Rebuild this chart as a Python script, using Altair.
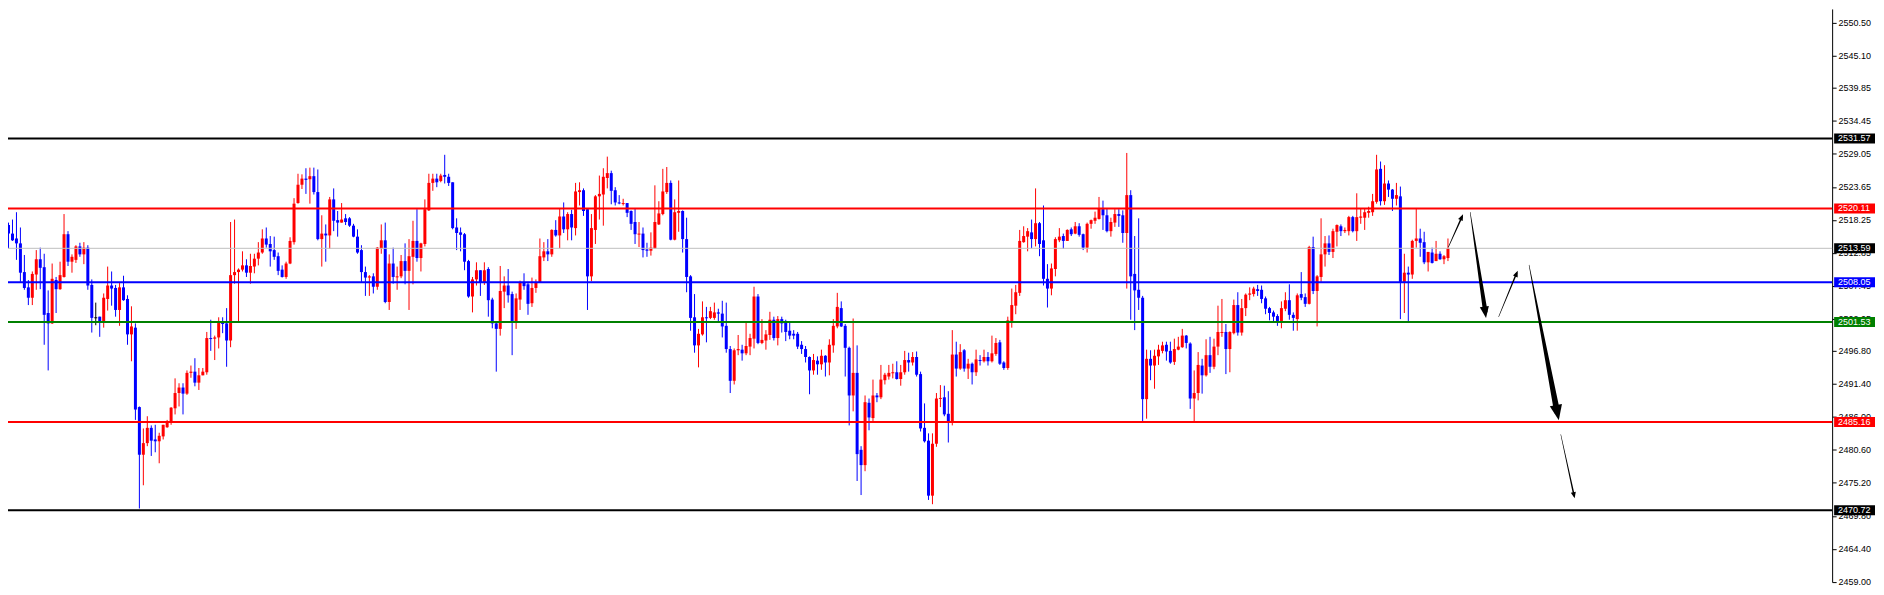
import altair as alt
import pandas as pd

# ---------------- candle data ----------------
opens = [
2517.4, 2516.0, 2515.2, 2514.4, 2509.7, 2507.2, 2505.5, 2509.3, 2511.8, 2510.5,
2503.0, 2501.3, 2508.4, 2506.9, 2508.9, 2515.9, 2511.4, 2511.7, 2513.9, 2512.6,
2513.7, 2507.6, 2502.3, 2502.4, 2501.6, 2505.3, 2507.5, 2507.1, 2503.5, 2507.2,
2505.3, 2499.5, 2500.6, 2487.6, 2479.8, 2481.7, 2484.2, 2482.3, 2482.0, 2482.8,
2484.3, 2485.0, 2487.4, 2489.9, 2490.8, 2489.8, 2493.2, 2493.4, 2491.6, 2492.8,
2493.3, 2498.9, 2498.8, 2499.0, 2501.6, 2501.3, 2498.5, 2509.2, 2509.7, 2510.1,
2510.8, 2509.6, 2510.6, 2511.9, 2512.9, 2515.2, 2514.3, 2513.3, 2512.3, 2510.1,
2508.9, 2511.1, 2514.6, 2521.0, 2524.0, 2525.0, 2524.9, 2525.4, 2522.8, 2515.1,
2516.0, 2515.7, 2521.6, 2518.2, 2517.8, 2518.5, 2518.5, 2517.3, 2515.5, 2513.3,
2509.7, 2508.8, 2509.0, 2507.3, 2513.6, 2514.9, 2504.8, 2511.1, 2508.9, 2509.0,
2511.5, 2509.9, 2512.2, 2514.8, 2512.0, 2514.3, 2519.8, 2524.3, 2525.0, 2524.6,
2525.6, 2525.3, 2524.4, 2517.0, 2516.2, 2515.9, 2511.5, 2505.7, 2508.5, 2510.0,
2508.0, 2510.2, 2505.2, 2501.3, 2500.4, 2506.5, 2507.5, 2506.1, 2501.6, 2505.2,
2508.0, 2507.7, 2504.6, 2507.1, 2508.0, 2512.1, 2513.1, 2512.6, 2516.6, 2515.7,
2518.8, 2516.7, 2519.2, 2516.9, 2522.8, 2523.1, 2520.0, 2509.0, 2516.6, 2522.1,
2522.4, 2525.1, 2525.9, 2523.1, 2521.1, 2520.9, 2521.0, 2519.7, 2517.9, 2515.9,
2516.0, 2513.4, 2513.2, 2513.6, 2517.5, 2519.2, 2522.8, 2524.3, 2515.0, 2519.4,
2519.7, 2515.1, 2509.0, 2502.3, 2497.7, 2499.5, 2502.3, 2502.2, 2502.2, 2503.1,
2502.9, 2500.9, 2497.1, 2491.9, 2496.9, 2497.0, 2496.4, 2497.5, 2498.8, 2505.7,
2498.1, 2498.5, 2499.4, 2501.9, 2498.9, 2502.0, 2501.7, 2500.1, 2499.6, 2499.6,
2497.8, 2497.1, 2495.8, 2493.6, 2495.2, 2494.6, 2496.0, 2494.9, 2497.7, 2500.8,
2503.8, 2500.9, 2497.3, 2489.5, 2493.2, 2480.6, 2478.1, 2488.3, 2485.8, 2489.5,
2489.2, 2492.0, 2492.6, 2493.2, 2493.3, 2492.2, 2493.3, 2495.3, 2494.9, 2495.8,
2493.0, 2484.2, 2482.1, 2473.1, 2481.6, 2489.0, 2489.2, 2486.5, 2485.3, 2496.2,
2493.9, 2496.9, 2493.9, 2494.7, 2493.3, 2495.3, 2495.1, 2495.8, 2495.1, 2496.3,
2498.2, 2494.9, 2494.0, 2501.7, 2504.2, 2506.3, 2514.6, 2515.5, 2516.2, 2515.1,
2517.7, 2514.9, 2508.6, 2507.0, 2510.2, 2514.9, 2515.6, 2514.8, 2516.7, 2516.0,
2517.2, 2515.9, 2513.7, 2517.6, 2518.1, 2518.4, 2520.0, 2519.0, 2516.4, 2517.8,
2519.2, 2519.0, 2516.1, 2522.3, 2509.4, 2506.8, 2505.5, 2488.9, 2495.5, 2494.4,
2495.9, 2496.8, 2497.8, 2496.8, 2495.0, 2497.0, 2497.4, 2499.3, 2498.0, 2489.0,
2489.9, 2494.4, 2492.8, 2496.1, 2494.2, 2497.5, 2499.8, 2499.9, 2497.1, 2499.7,
2504.3, 2499.8, 2503.8, 2506.0, 2506.1, 2506.9, 2506.8, 2505.4, 2503.8, 2503.1,
2502.5, 2501.7, 2503.7, 2505.1, 2502.7, 2502.0, 2506.1, 2505.6, 2504.5, 2513.8,
2506.6, 2508.9, 2512.6, 2514.4, 2513.0, 2516.3, 2517.2, 2516.4, 2516.4, 2518.7,
2516.4, 2518.6, 2518.6, 2519.4, 2519.5, 2521.2, 2526.6, 2521.3, 2524.2, 2523.2,
2521.7, 2522.1, 2508.1, 2509.6, 2509.3, 2514.8, 2515.2, 2514.6, 2511.3, 2512.9,
2511.5, 2512.7, 2511.8, 2512.0,
]

highs = [
2517.8, 2518.3, 2519.5, 2517.0, 2512.5, 2508.4, 2509.8, 2513.3, 2513.7, 2512.7,
2506.7, 2511.1, 2508.9, 2511.4, 2519.2, 2516.4, 2512.6, 2514.1, 2514.5, 2514.6,
2514.1, 2508.5, 2504.7, 2502.4, 2506.2, 2510.6, 2509.8, 2507.6, 2507.9, 2509.1,
2505.9, 2504.1, 2501.3, 2487.7, 2484.1, 2486.1, 2484.6, 2484.7, 2483.4, 2484.7,
2485.5, 2487.6, 2492.3, 2491.5, 2491.5, 2493.6, 2494.4, 2495.6, 2494.0, 2494.0,
2499.9, 2501.9, 2499.3, 2502.3, 2502.3, 2503.8, 2517.9, 2518.3, 2510.3, 2513.1,
2511.8, 2512.7, 2512.7, 2514.6, 2516.7, 2517.0, 2515.6, 2515.5, 2512.9, 2510.8,
2511.4, 2515.4, 2521.8, 2525.8, 2525.7, 2526.7, 2526.8, 2526.8, 2526.5, 2519.0,
2517.5, 2522.0, 2523.4, 2519.7, 2521.0, 2519.2, 2518.7, 2517.6, 2516.7, 2514.1,
2510.6, 2509.2, 2509.5, 2513.8, 2517.5, 2517.8, 2512.6, 2513.7, 2510.6, 2512.5,
2514.4, 2515.1, 2518.1, 2520.0, 2514.5, 2521.6, 2525.8, 2525.8, 2525.8, 2525.8,
2528.9, 2525.8, 2524.4, 2518.5, 2517.0, 2516.1, 2511.7, 2508.9, 2511.3, 2510.0,
2511.3, 2510.5, 2505.5, 2501.6, 2510.7, 2509.0, 2510.2, 2506.5, 2506.2, 2508.3,
2509.5, 2508.1, 2508.8, 2508.5, 2515.2, 2514.6, 2515.1, 2516.7, 2518.2, 2520.1,
2521.1, 2519.5, 2519.9, 2524.3, 2524.4, 2523.4, 2520.1, 2519.2, 2522.3, 2525.5,
2526.7, 2528.6, 2526.3, 2523.6, 2522.3, 2521.7, 2521.0, 2519.8, 2520.1, 2517.9,
2517.0, 2514.5, 2516.2, 2523.9, 2521.3, 2526.6, 2526.9, 2524.7, 2521.6, 2524.7,
2519.8, 2518.6, 2509.2, 2506.1, 2500.4, 2504.9, 2504.0, 2504.0, 2504.7, 2503.7,
2505.0, 2504.7, 2497.6, 2497.2, 2499.4, 2497.8, 2501.5, 2499.6, 2507.3, 2506.1,
2502.0, 2500.2, 2503.2, 2502.4, 2502.5, 2502.4, 2501.9, 2501.5, 2500.2, 2499.9,
2498.4, 2497.6, 2495.9, 2496.3, 2495.9, 2497.0, 2496.1, 2498.7, 2502.0, 2506.3,
2504.9, 2501.2, 2497.5, 2502.1, 2497.7, 2481.2, 2489.5, 2489.0, 2492.1, 2489.9,
2494.5, 2493.2, 2494.5, 2494.7, 2495.1, 2494.5, 2496.8, 2496.5, 2496.6, 2496.7,
2493.4, 2488.2, 2483.3, 2483.3, 2489.9, 2491.2, 2491.1, 2490.2, 2500.2, 2498.3,
2497.9, 2497.1, 2495.5, 2494.9, 2497.0, 2496.1, 2497.0, 2496.6, 2499.3, 2498.9,
2498.6, 2495.1, 2502.4, 2507.0, 2507.6, 2516.6, 2517.2, 2516.9, 2518.3, 2523.4,
2517.9, 2520.6, 2511.0, 2511.1, 2515.4, 2516.9, 2516.0, 2516.7, 2517.0, 2517.9,
2517.7, 2516.0, 2517.8, 2518.3, 2519.6, 2522.0, 2521.4, 2520.1, 2518.6, 2520.0,
2520.0, 2519.8, 2529.2, 2523.1, 2515.6, 2518.5, 2505.8, 2497.0, 2496.9, 2497.0,
2497.8, 2498.3, 2498.3, 2498.3, 2498.8, 2499.1, 2500.4, 2499.4, 2498.2, 2493.6,
2496.6, 2495.5, 2498.7, 2499.1, 2498.8, 2504.2, 2505.3, 2501.2, 2500.0, 2505.2,
2506.4, 2505.3, 2506.2, 2507.2, 2507.3, 2507.6, 2507.5, 2505.7, 2504.0, 2503.4,
2502.8, 2504.9, 2506.4, 2507.7, 2503.1, 2506.2, 2509.7, 2506.2, 2514.0, 2515.5,
2509.2, 2518.5, 2515.6, 2515.7, 2516.8, 2517.5, 2517.5, 2517.0, 2518.9, 2518.9,
2522.6, 2520.1, 2520.1, 2520.4, 2522.5, 2528.9, 2527.8, 2527.2, 2524.7, 2523.3,
2524.3, 2523.7, 2512.7, 2510.6, 2515.0, 2520.1, 2516.8, 2516.3, 2513.0, 2513.7,
2514.8, 2513.1, 2512.5, 2515.2,
]

lows = [
2513.6, 2514.8, 2511.7, 2508.1, 2506.8, 2504.3, 2504.3, 2506.8, 2506.9, 2497.8,
2493.6, 2501.2, 2503.0, 2506.8, 2508.8, 2510.7, 2509.6, 2511.2, 2512.2, 2511.0,
2506.8, 2499.8, 2501.0, 2499.1, 2500.6, 2503.4, 2504.2, 2502.4, 2500.9, 2505.0,
2497.8, 2495.1, 2485.5, 2471.0, 2474.8, 2481.2, 2479.6, 2480.2, 2478.4, 2482.3,
2484.2, 2484.7, 2486.4, 2487.7, 2486.4, 2489.6, 2492.4, 2491.0, 2490.4, 2492.8,
2492.9, 2496.8, 2495.3, 2497.2, 2499.7, 2494.2, 2497.4, 2507.8, 2501.6, 2509.8,
2508.9, 2507.8, 2509.5, 2510.8, 2512.7, 2513.7, 2510.6, 2511.7, 2509.2, 2508.8,
2508.6, 2511.0, 2514.2, 2520.9, 2523.3, 2522.5, 2520.9, 2522.4, 2514.9, 2510.6,
2511.4, 2513.5, 2516.4, 2515.5, 2517.8, 2517.4, 2517.1, 2515.4, 2512.7, 2508.1,
2505.8, 2505.8, 2506.2, 2506.8, 2512.7, 2504.6, 2503.5, 2507.8, 2506.8, 2508.7,
2507.7, 2503.5, 2507.7, 2511.4, 2509.8, 2513.9, 2519.7, 2523.0, 2523.6, 2524.4,
2524.2, 2523.8, 2516.7, 2513.3, 2513.1, 2510.0, 2505.5, 2503.1, 2507.5, 2505.8,
2507.6, 2502.4, 2500.5, 2493.4, 2499.3, 2503.8, 2504.7, 2496.1, 2500.4, 2503.5,
2506.8, 2502.7, 2504.0, 2506.3, 2508.0, 2511.5, 2511.5, 2512.2, 2515.5, 2513.6,
2516.1, 2514.9, 2514.9, 2515.7, 2520.6, 2518.9, 2503.5, 2508.2, 2514.3, 2518.3,
2517.3, 2523.4, 2520.8, 2520.6, 2520.8, 2520.6, 2518.7, 2516.6, 2514.3, 2513.8,
2512.1, 2512.2, 2512.4, 2513.5, 2517.4, 2519.0, 2522.5, 2514.9, 2514.9, 2516.3,
2512.9, 2506.4, 2500.1, 2496.5, 2494.1, 2499.3, 2498.2, 2502.0, 2501.9, 2501.6,
2499.0, 2496.5, 2489.9, 2491.3, 2496.1, 2495.2, 2496.1, 2496.1, 2497.2, 2497.9,
2497.9, 2497.0, 2498.6, 2498.5, 2497.7, 2499.8, 2498.4, 2498.7, 2498.7, 2497.1,
2496.3, 2494.9, 2489.7, 2492.9, 2492.9, 2493.7, 2492.6, 2492.8, 2496.5, 2500.5,
2500.7, 2492.6, 2484.6, 2486.9, 2475.5, 2473.2, 2477.1, 2483.8, 2485.3, 2488.4,
2488.9, 2491.3, 2492.1, 2492.3, 2492.1, 2491.1, 2492.9, 2493.4, 2494.4, 2492.6,
2483.6, 2481.8, 2472.4, 2471.7, 2481.1, 2487.6, 2486.1, 2481.8, 2484.6, 2492.6,
2493.7, 2493.4, 2492.2, 2491.3, 2492.7, 2494.4, 2494.9, 2494.4, 2494.9, 2496.0,
2494.5, 2493.7, 2493.7, 2500.6, 2502.8, 2505.8, 2514.5, 2513.1, 2513.6, 2513.9,
2512.3, 2507.5, 2503.9, 2505.9, 2509.0, 2514.6, 2513.5, 2514.8, 2515.6, 2515.9,
2515.5, 2513.3, 2512.9, 2516.8, 2517.6, 2518.3, 2516.6, 2516.2, 2515.5, 2517.1,
2517.1, 2514.5, 2507.0, 2501.9, 2500.2, 2503.5, 2485.0, 2485.7, 2492.0, 2490.6,
2494.5, 2496.4, 2495.2, 2494.7, 2494.5, 2496.9, 2497.3, 2497.2, 2487.3, 2485.3,
2488.7, 2489.8, 2492.6, 2493.2, 2493.8, 2496.1, 2499.1, 2493.0, 2493.3, 2499.5,
2499.3, 2499.3, 2502.5, 2505.1, 2505.7, 2505.8, 2504.6, 2502.8, 2501.8, 2501.6,
2500.9, 2500.5, 2503.3, 2501.9, 2500.1, 2500.1, 2505.1, 2504.0, 2504.4, 2506.1,
2500.8, 2508.1, 2510.6, 2512.5, 2512.0, 2513.9, 2515.6, 2516.1, 2515.7, 2516.2,
2514.8, 2517.6, 2516.6, 2518.6, 2518.9, 2520.9, 2520.6, 2520.7, 2522.0, 2519.7,
2520.6, 2502.0, 2503.0, 2501.6, 2508.6, 2513.7, 2512.2, 2511.0, 2509.8, 2511.1,
2511.5, 2511.7, 2511.0, 2511.5,
]

closes = [
2516.0, 2514.9, 2514.4, 2509.6, 2507.1, 2505.5, 2509.4, 2511.8, 2510.4, 2502.7,
2501.3, 2508.6, 2506.9, 2509.2, 2515.9, 2511.4, 2512.2, 2513.9, 2512.6, 2513.7,
2507.5, 2502.2, 2502.3, 2501.6, 2505.5, 2507.5, 2507.0, 2503.5, 2507.2, 2505.1,
2499.5, 2500.8, 2487.2, 2479.8, 2481.7, 2484.2, 2482.1, 2482.0, 2482.9, 2484.7,
2485.3, 2487.5, 2489.9, 2490.8, 2489.8, 2493.2, 2493.4, 2491.6, 2492.8, 2493.4,
2498.9, 2498.8, 2499.0, 2501.6, 2501.2, 2498.5, 2509.2, 2509.7, 2510.1, 2510.8,
2509.6, 2510.7, 2511.9, 2512.9, 2515.2, 2514.2, 2513.1, 2512.2, 2509.9, 2508.9,
2511.1, 2514.8, 2520.9, 2524.0, 2525.0, 2524.8, 2525.4, 2522.8, 2515.1, 2516.0,
2515.7, 2521.6, 2518.1, 2517.8, 2518.3, 2517.9, 2517.3, 2515.5, 2512.9, 2509.7,
2508.8, 2509.0, 2507.3, 2513.7, 2514.9, 2504.8, 2511.1, 2508.9, 2509.0, 2511.5,
2509.9, 2512.3, 2514.8, 2512.0, 2514.4, 2520.0, 2524.3, 2525.0, 2524.4, 2525.5,
2525.3, 2524.3, 2516.9, 2516.1, 2515.8, 2511.4, 2505.7, 2508.5, 2510.0, 2508.0,
2510.0, 2505.1, 2501.3, 2500.4, 2506.6, 2507.5, 2505.9, 2501.6, 2505.4, 2508.0,
2507.4, 2504.5, 2507.1, 2508.0, 2512.3, 2513.1, 2512.6, 2516.6, 2515.7, 2518.8,
2516.7, 2519.2, 2517.0, 2522.9, 2523.1, 2519.7, 2509.0, 2516.9, 2522.1, 2522.5,
2525.3, 2525.9, 2523.0, 2521.1, 2521.0, 2521.0, 2519.4, 2517.6, 2515.9, 2516.0,
2513.3, 2513.2, 2513.7, 2517.9, 2519.3, 2522.9, 2524.3, 2515.0, 2519.5, 2519.7,
2515.1, 2508.9, 2502.2, 2497.7, 2499.6, 2502.3, 2502.2, 2503.3, 2503.1, 2502.9,
2500.8, 2497.1, 2491.9, 2496.9, 2497.1, 2496.4, 2497.6, 2498.9, 2505.7, 2498.1,
2498.6, 2499.5, 2501.9, 2498.9, 2502.0, 2501.3, 2499.9, 2499.3, 2499.3, 2497.5,
2497.1, 2495.8, 2493.6, 2495.3, 2494.6, 2496.0, 2494.9, 2497.8, 2500.9, 2504.0,
2500.8, 2497.3, 2489.5, 2493.2, 2479.9, 2478.1, 2488.4, 2485.9, 2489.5, 2489.2,
2492.1, 2492.9, 2493.2, 2493.3, 2492.2, 2493.3, 2495.3, 2494.9, 2495.8, 2492.9,
2484.1, 2482.0, 2473.1, 2481.6, 2489.0, 2489.1, 2486.4, 2485.3, 2496.2, 2493.9,
2496.6, 2493.9, 2494.7, 2493.3, 2495.4, 2495.2, 2495.8, 2495.1, 2496.4, 2498.1,
2494.7, 2494.0, 2501.8, 2504.3, 2506.4, 2514.8, 2515.6, 2516.4, 2515.1, 2517.7,
2514.3, 2508.6, 2507.0, 2510.3, 2515.1, 2515.5, 2514.8, 2516.6, 2515.9, 2517.2,
2515.8, 2513.7, 2517.6, 2518.2, 2518.6, 2520.1, 2519.0, 2516.4, 2517.9, 2519.2,
2518.9, 2516.1, 2522.3, 2509.0, 2506.7, 2505.5, 2488.9, 2495.5, 2494.4, 2496.0,
2497.0, 2497.7, 2496.7, 2494.9, 2497.1, 2497.5, 2499.3, 2498.1, 2489.0, 2489.9,
2494.5, 2492.8, 2496.1, 2494.2, 2497.5, 2499.9, 2499.9, 2497.1, 2499.9, 2504.3,
2499.8, 2503.8, 2506.0, 2506.2, 2507.0, 2506.6, 2505.3, 2503.7, 2503.0, 2502.4,
2501.7, 2503.8, 2505.1, 2502.7, 2502.2, 2505.9, 2505.5, 2504.5, 2513.8, 2506.6,
2509.0, 2512.6, 2514.4, 2513.0, 2516.4, 2517.4, 2516.4, 2516.6, 2518.7, 2516.4,
2518.7, 2518.8, 2519.5, 2519.7, 2521.3, 2526.5, 2521.3, 2524.2, 2523.2, 2521.7,
2522.3, 2508.1, 2509.6, 2509.3, 2514.8, 2515.2, 2514.5, 2511.3, 2513.0, 2511.2,
2512.7, 2511.8, 2512.3, 2513.59,
]

# ---------------- horizontal levels ----------------
level_prices = [2531.57, 2520.11, 2513.59, 2508.05, 2501.53, 2485.16, 2470.72]
level_colors = ["#000000", "#FF0000", "#C0C0C0", "#0000FF", "#008000", "#FF0000", "#000000"]
level_widths = [2, 2, 1, 2, 2, 2, 2]
label_bgs = ["#000000", "#FF0000", "#000000", "#0000FF", "#008000", "#FF0000", "#000000"]

tick_values = [2550.50, 2545.10, 2539.85, 2534.45, 2529.05, 2523.65, 2518.25,
               2512.85, 2507.45, 2502.05, 2496.80, 2491.40, 2486.00, 2480.60,
               2475.20, 2469.80, 2464.40, 2459.00]

# ---------------- hand-drawn arrows (bar index, price) ----------------
arrow_ids    = [1, 1, 2, 2, 3, 3, 4, 4, 5, 5]
arrow_seq    = [0, 1, 0, 1, 0, 1, 0, 1, 0, 1]
arrow_x      = [363.1, 366.5, 368.6, 372.4, 375.8, 380.3, 383.45, 390.5, 391.45, 394.8]
arrow_price  = [2513.8, 2518.7, 2519.5, 2503.3, 2502.4, 2509.5, 2510.85, 2486.9, 2483.1, 2473.1]
arrow_w      = [0.6, 1.6, 0.5, 4.5, 0.5, 1.6, 0.5, 6.0, 0.5, 1.6]

head_ids   = [1, 2, 3, 4, 5]
head_x     = [366.8, 372.6, 380.6, 390.95, 394.95]
head_price = [2519.17, 2502.2, 2509.92, 2485.44, 2472.66]
head_angle = [24.2, 171.4, 22.8, 169.1, 167.7]
head_size  = [40, 130, 40, 240, 40]

# ---------------- build tables ----------------
n = len(opens)
assert all(len(a) == n for a in (highs, lows, closes)), [len(a) for a in (opens, highs, lows, closes)]

W, H = 1830, 575
X_DOMAIN = [1.125, 1.125 + W / 4.0]
Y_DOMAIN = [2458.95, 2552.78]
unit_px = H / (Y_DOMAIN[1] - Y_DOMAIN[0])

df = pd.DataFrame({"i": list(range(n)), "open": opens, "high": highs,
                   "low": lows, "close": closes})
df["dir"] = ["up" if c > o else ("down" if c < o else "flat") for o, c in zip(df.open, df.close)]
df["top"] = df[["open", "close"]].max(axis=1)
df["bot"] = df[["open", "close"]].min(axis=1)
min_body = 1.0 / unit_px
small = (df["top"] - df["bot"]) < min_body
df.loc[small, "bot"] = df.loc[small, "top"] - min_body

levels = pd.DataFrame({"price": level_prices, "color": level_colors,
                       "w": level_widths, "bg": label_bgs})
half = 5.0 / unit_px
levels["y1"] = levels["price"] + half
levels["y2"] = levels["price"] - half

shafts = pd.DataFrame({"arrow": arrow_ids, "seq": arrow_seq, "i": arrow_x,
                       "price": arrow_price, "w": arrow_w})
heads = pd.DataFrame({"arrow": head_ids, "i": head_x, "price": head_price,
                      "angle": head_angle, "size": head_size})

xscale = alt.Scale(domain=X_DOMAIN, nice=False, zero=False)
yscale = alt.Scale(domain=Y_DOMAIN, nice=False, zero=False)
X = alt.X("i:Q", scale=xscale, axis=None)

yaxis = alt.Axis(orient="right", values=tick_values, format=".2f", grid=False,
                 domainColor="#000000", domainWidth=1, tickColor="#000000",
                 tickSize=4, tickWidth=1, labelFont="Liberation Sans",
                 labelFontSize=9, labelColor="#000000", labelPadding=2,
                 labelOverlap=False, labelFlush=False, title=None)


def Y(field):
    return alt.Y(field, scale=yscale, axis=yaxis, title=None)


candle_color = alt.Color("dir:N", scale=alt.Scale(domain=["up", "down", "flat"],
                         range=["#FF0000", "#0000FF", "#000000"]), legend=None)

wicks = alt.Chart(df).mark_rule(strokeWidth=1).encode(
    x=X, y=Y("low:Q"), y2="high:Q", color=candle_color)

bodies = alt.Chart(df).mark_bar(width=3, stroke=None).encode(
    x=X, y=Y("bot:Q"), y2="top:Q", color=candle_color)

level_lines = alt.Chart(levels).mark_rule().encode(
    y=Y("price:Q"),
    color=alt.Color("color:N", scale=None),
    strokeWidth=alt.StrokeWidth("w:Q", scale=None))

label_boxes = alt.Chart(levels).mark_rect().encode(
    x=alt.value(W + 2), x2=alt.value(W + 43),
    y=Y("y1:Q"), y2="y2:Q",
    color=alt.Color("bg:N", scale=None))

label_text = alt.Chart(levels).mark_text(
    align="left", baseline="middle", font="Liberation Sans", fontSize=9,
    color="#FFFFFF").encode(
    x=alt.value(W + 6), y=Y("price:Q"),
    text=alt.Text("price:Q", format=".2f"))

arrow_shafts = alt.Chart(shafts).mark_trail(color="#000000").encode(
    x=X, y=Y("price:Q"),
    size=alt.Size("w:Q", scale=None, legend=None),
    detail="arrow:N", order="seq:Q")

arrow_heads = alt.Chart(heads).mark_point(
    shape="M0,0 L0.8,2 L-0.8,2 Z", filled=True, color="#000000",
    opacity=1, strokeWidth=0).encode(
    x=X, y=Y("price:Q"),
    angle=alt.Angle("angle:Q", scale=None),
    size=alt.Size("size:Q", scale=None, legend=None))

chart = alt.layer(
    wicks, bodies, level_lines, label_boxes, label_text, arrow_shafts, arrow_heads
).properties(
    width=W, height=H,
    autosize=alt.AutoSizeParams(type="none"),
    padding={"left": 0, "top": 0, "right": 44, "bottom": 5},
    background="#FFFFFF",
).configure_view(stroke=None)

chart.save("out.html", embed_options={"renderer": "svg", "actions": False})
